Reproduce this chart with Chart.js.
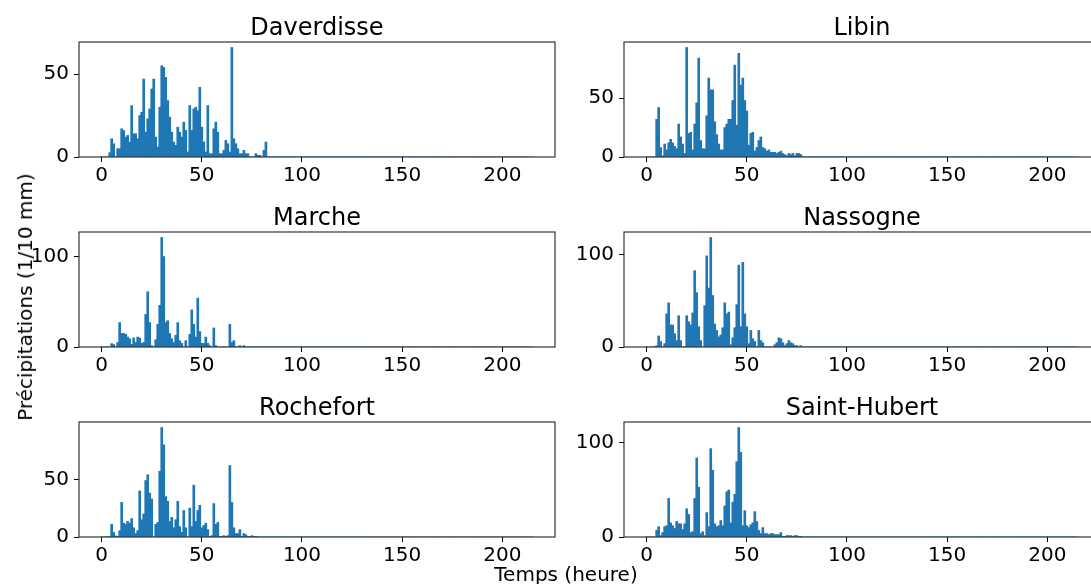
<!DOCTYPE html>
<html>
<head>
<meta charset="utf-8">
<script src="https://cdn.jsdelivr.net/npm/chart.js"></script>
<style>
  body { margin: 0; background: #fff; width: 1091px; height: 584px; overflow: hidden; position: relative; font-family: "DejaVu Sans", sans-serif; }
  canvas { position: absolute; }
  .lbl { position: absolute; font-size: 20px; color: #000; white-space: nowrap; }
  #ylabel { left: 25px; top: 297px; transform: translate(-50%, -50%) rotate(-90deg); }
  #xlabel { left: 566px; top: 574px; transform: translate(-50%, -50%); }
</style>
</head>
<body>
<canvas id="c0" width="556" height="187" style="left:9px;top:0px"></canvas>
<canvas id="c1" width="556" height="187" style="left:554px;top:0px"></canvas>
<canvas id="c2" width="556" height="187" style="left:9px;top:190px"></canvas>
<canvas id="c3" width="556" height="187" style="left:554px;top:190px"></canvas>
<canvas id="c4" width="556" height="187" style="left:9px;top:380px"></canvas>
<canvas id="c5" width="556" height="187" style="left:554px;top:380px"></canvas>
<div class="lbl" id="ylabel">Précipitations (1/10 mm)</div>
<div class="lbl" id="xlabel">Temps (heure)</div>
<script>
// hourly precipitation, hours 0..215 (values after the last listed hour are 0)
const HOURS = 216;
const stations = ['Daverdisse', 'Libin', 'Marche', 'Nassogne', 'Rochefort', 'Saint-Hubert'];

const daverdisse = [0, 0, 0, 0, 2.6, 11, 8, 0, 5, 5,
  17, 16, 12, 13, 9, 31, 14, 14, 11, 25,
  27, 47, 15, 23, 29, 41, 47, 12, 6, 30,
  55, 54, 48, 34, 24, 15, 9, 7, 18, 15,
  12, 21, 16, 3, 31, 16, 29, 30, 28, 42,
  18, 9, 3, 31, 2, 2, 17, 21, 15, 2,
  2, 4, 10, 8, 3, 66, 11, 8, 5, 2,
  2, 4, 2, 2, 0, 0, 0, 2, 1, 1,
  0, 4, 9];
const libin = [0, 0, 0, 0, 0, 32, 42, 8, 1, 11,
  6, 12, 15, 12, 9, 7, 28, 17, 11, 3,
  93, 20, 21, 6, 28, 46, 84, 14, 7, 7,
  35, 67, 57, 57, 30, 19, 11, 6, 6, 25,
  28, 32, 32, 48, 78, 27, 88, 61, 67, 48,
  39, 10, 20, 21, 5, 8, 14, 17, 8, 7,
  5, 6, 4, 4, 4, 3, 4, 5, 3, 2,
  1, 3, 2, 3, 1, 3, 3, 2];
const marche = [0, 0, 0, 0, 0, 3.7, 2.6, 0, 5, 27,
  15, 15, 14, 11, 9, 3, 10, 5, 11, 10,
  4, 5, 36, 61, 27, 1.5, 0, 8, 25, 46,
  121, 100, 27, 29, 15, 9, 5, 13, 27, 7,
  4, 0, 7, 0, 14, 41, 25, 11, 54, 17,
  4, 4, 11, 4, 1.5, 0, 21, 1.5, 0, 0,
  0, 0, 0, 0, 25, 5, 7, 0, 0, 1.5,
  0, 1.5];
const nassogne = [0, 0, 0, 0, 0, 1.5, 12, 6, 0, 3.6,
  36, 48, 24, 24, 14.5, 7, 34, 7, 0, 0,
  34, 27.5, 24, 37, 83, 59, 22, 7, 0, 45,
  99, 64, 119, 56, 25, 18, 11, 13, 21, 48,
  36, 38, 2.5, 10, 21, 46, 89, 22, 92, 36,
  22, 3.6, 18, 9, 6, 0, 18, 7, 4.7, 0,
  0, 0, 0, 0, 2.5, 4.7, 10, 9, 4.7, 1.5,
  3.6, 7, 4.7, 3.6, 1.5, 1.5, 0, 1.5];
const rochefort = [0, 0, 0, 0.3, 0, 11, 4, 1, 0.3, 5.5,
  30, 12, 11, 13.5, 12, 16, 8, 3, 5.5, 40,
  15, 20, 49, 54, 38, 33, 0, 11, 12.6, 57,
  95, 80, 35, 31, 13.5, 17, 8, 15, 31, 9,
  4, 23, 8, 0, 25, 9, 45, 13.5, 23, 27.5,
  8, 10, 12, 6.4, 0.3, 1.2, 29, 11, 12.6, 0.3,
  0.3, 1.2, 0.3, 1.2, 62, 30, 8, 3, 3, 6.4,
  0.3, 3, 2, 0.3, 0.3, 1.2, 0.3, 0.3];
const saintHubert = [0, 0, 0, 0, 0, 7, 11, 1.5, 4.7, 11,
  12, 41, 15, 12, 9, 16.5, 14, 14, 8, 14,
  30, 24, 4.7, 5.7, 41, 84, 53, 3.6, 5.7, 1.5,
  26, 11, 94, 71, 14, 11, 12, 17.5, 12, 33,
  48, 50, 15, 37, 45.5, 80, 116.5, 90, 12, 28,
  12, 10, 13, 15, 27, 16.5, 7, 3.6, 10, 3.6,
  3.6, 2.5, 3.6, 3.6, 2.5, 2.5, 2.5, 4.7, 0.3, 0.3,
  1.5, 1.5, 1.5, 0.3, 1.5, 1.5, 0.3, 0.3];

const seriesList = [daverdisse, libin, marche, nassogne, rochefort, saintHubert];
const xTicks = [0, 50, 100, 150, 200];
const yTicksList = [[0, 50], [0, 50], [0, 100], [0, 100], [0, 50], [0, 100]];

Chart.defaults.font.family = 'DejaVu Sans';
Chart.defaults.color = '#000';

// full box around the plot area, like matplotlib spines
const frame = {
  id: 'frame',
  afterDraw(chart) {
    const a = chart.chartArea, ctx = chart.ctx;
    ctx.save();
    ctx.strokeStyle = '#222';
    ctx.lineWidth = 1.1;
    ctx.strokeRect(Math.round(a.left), Math.round(a.top), Math.round(a.right - a.left), Math.round(a.bottom - a.top));
    ctx.restore();
  }
};

stations.forEach((name, k) => {
  const vals = seriesList[k].slice();
  while (vals.length < HOURS) vals.push(0);
  const yMax = Math.max(...vals) * 1.05;
  new Chart(document.getElementById('c' + k), {
    type: 'bar',
    data: {
      datasets: [{
        data: vals.map((v, i) => ({ x: i, y: v })),
        backgroundColor: '#1f77b4',
        borderWidth: 0,
        barPercentage: 1,
        categoryPercentage: 1
      }]
    },
    options: {
      responsive: false,
      animation: false,
      devicePixelRatio: 1,
      layout: { padding: { left: 0, right: 10, top: 0, bottom: 0 } },
      plugins: {
        legend: { display: false },
        tooltip: { enabled: false },
        title: {
          display: true,
          text: name,
          color: '#000',
          fullSize: false,
          font: { size: 24, weight: 'normal', lineHeight: 1.1 },
          padding: { top: 15.6, bottom: 0 }
        }
      },
      scales: {
        x: {
          type: 'linear',
          offset: false,
          min: -11.3,
          max: 226.3,
          afterFit: s => { s.height = 30; },
          afterBuildTicks: s => { s.ticks = xTicks.map(v => ({ value: v })); },
          grid: { display: true, drawOnChartArea: false, offset: false, tickLength: 5, color: '#000' },
          border: { display: false },
          ticks: { font: { size: 20 }, padding: 2, maxRotation: 0, autoSkip: false }
        },
        y: {
          min: 0,
          max: yMax,
          afterFit: s => { s.width = 70; },
          afterBuildTicks: s => { s.ticks = yTicksList[k].map(v => ({ value: v })); },
          grid: { display: true, drawOnChartArea: false, tickLength: 5, color: '#000' },
          border: { display: false },
          ticks: { font: { size: 20 }, padding: 5 }
        }
      }
    },
    plugins: [frame]
  });
});
</script>
</body>
</html>
